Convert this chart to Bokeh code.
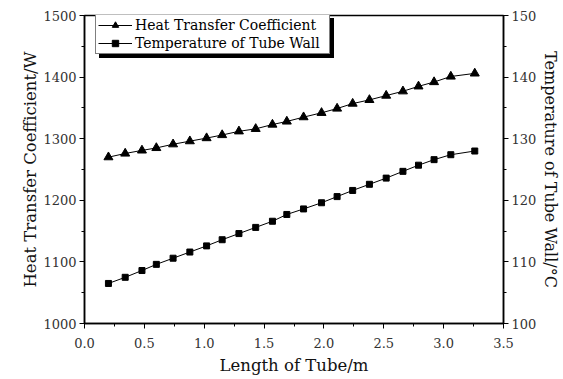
from bokeh.plotting import figure
from bokeh.models import Range1d, LinearAxis, FixedTicker, PrintfTickFormatter, Legend, LegendItem
from bokeh.embed import file_html
from bokeh.resources import INLINE

# ---- data ----
length_m = [0.20, 0.34, 0.48, 0.60, 0.74, 0.88, 1.02, 1.15, 1.29, 1.43, 1.57, 1.69,
            1.83, 1.98, 2.11, 2.24, 2.38, 2.52, 2.66, 2.79, 2.92, 3.06, 3.26]
heat_transfer_coef = [1270, 1276, 1281, 1285, 1291, 1296, 1301, 1306, 1312, 1316, 1323, 1328,
                      1335, 1342, 1349, 1357, 1363, 1370, 1377, 1385, 1392, 1401, 1406]
tube_wall_temp = [106.5, 107.5, 108.6, 109.6, 110.6, 111.6, 112.6, 113.6, 114.6, 115.6, 116.6, 117.7,
                  118.6, 119.6, 120.6, 121.6, 122.6, 123.6, 124.7, 125.7, 126.6, 127.4, 128.0]

x_ticks = [0.0, 0.5, 1.0, 1.5, 2.0, 2.5, 3.0, 3.5]
x_minor = [0.25, 0.75, 1.25, 1.75, 2.25, 2.75, 3.25]
left_ticks = [1000, 1100, 1200, 1300, 1400, 1500]
left_minor = [1050, 1150, 1250, 1350, 1450]
right_ticks = [100, 110, 120, 130, 140, 150]
right_minor = [105, 115, 125, 135, 145]

x_label = "Length of Tube/m"
left_label = "Heat Transfer Coefficient/W"
right_label = "Temperature of Tube Wall/°C"
series_names = ["Heat Transfer Coefficient", "Temperature of Tube Wall"]

FONT = "DejaVu Serif"

p = figure(width=563, height=379, output_backend="svg", toolbar_location=None,
           x_range=Range1d(0, 3.5), y_range=Range1d(1000, 1500),
           min_border_left=84, min_border_right=58, min_border_top=15, min_border_bottom=56)
p.extra_y_ranges = {"right": Range1d(100, 150)}
p.xgrid.visible = False
p.ygrid.visible = False
p.outline_line_color = "black"
p.outline_line_width = 1.5
p.background_fill_color = "white"
p.border_fill_color = "white"

# series
l1 = p.line(length_m, heat_transfer_coef, line_color="black", line_width=1)
m1 = p.scatter(length_m, heat_transfer_coef, marker="triangle", size=9,
               fill_color="black", line_color="black")
l2 = p.line(length_m, tube_wall_temp, line_color="black", line_width=1, y_range_name="right")
m2 = p.scatter(length_m, tube_wall_temp, marker="square", size=6,
               fill_color="black", line_color="black", y_range_name="right")

right_axis = LinearAxis(y_range_name="right")
p.add_layout(right_axis, "right")

def style_axis(ax, ticks, minor, label, lab_standoff, title_standoff, title_size):
    ax.ticker = FixedTicker(ticks=ticks, minor_ticks=minor)
    ax.axis_label = label
    ax.axis_label_text_font = FONT
    ax.axis_label_text_font_size = title_size
    ax.axis_label_text_font_style = "normal"
    ax.axis_label_text_color = "#111111"
    ax.major_label_text_font = FONT
    ax.major_label_text_font_size = "13px"
    ax.major_label_text_color = "#333333"
    ax.axis_line_color = "black"
    ax.axis_line_width = 1.5
    ax.major_tick_line_color = "black"
    ax.minor_tick_line_color = "black"
    ax.major_tick_line_width = 1
    ax.minor_tick_line_width = 1
    ax.major_tick_out = 5
    ax.major_tick_in = 0
    ax.minor_tick_out = 3
    ax.minor_tick_in = 0
    ax.major_label_standoff = lab_standoff
    ax.axis_label_standoff = title_standoff

style_axis(p.xaxis[0], x_ticks, x_minor, x_label, 9, 5, "16.5px")
p.xaxis[0].formatter = PrintfTickFormatter(format="%.1f")
style_axis(p.yaxis[0], left_ticks, left_minor, left_label, 3, 0, "16.5px")
style_axis(right_axis, right_ticks, right_minor, right_label, 3, 2, "16px")

def make_legend(shadow):
    labels = [" ", " "] if shadow else series_names
    items = [LegendItem(label=labels[0], renderers=[l1, m1]),
             LegendItem(label=labels[1], renderers=[l2, m2])]
    off = 4 if shadow else 0
    lg = Legend(items=items, location=(11 + off, 269 - off),
                background_fill_color="black" if shadow else "white",
                background_fill_alpha=1.0,
                border_line_color="black", border_line_width=1,
                label_text_font=FONT, label_text_font_size="14px",
                label_text_color="black",
                label_width=192,
                glyph_width=34, glyph_height=16, label_height=16,
                label_standoff=3, padding=2, spacing=2, margin=0)
    return lg

p.add_layout(make_legend(True), "center")
p.add_layout(make_legend(False), "center")

open("out.html", "w").write(file_html(p, INLINE))
